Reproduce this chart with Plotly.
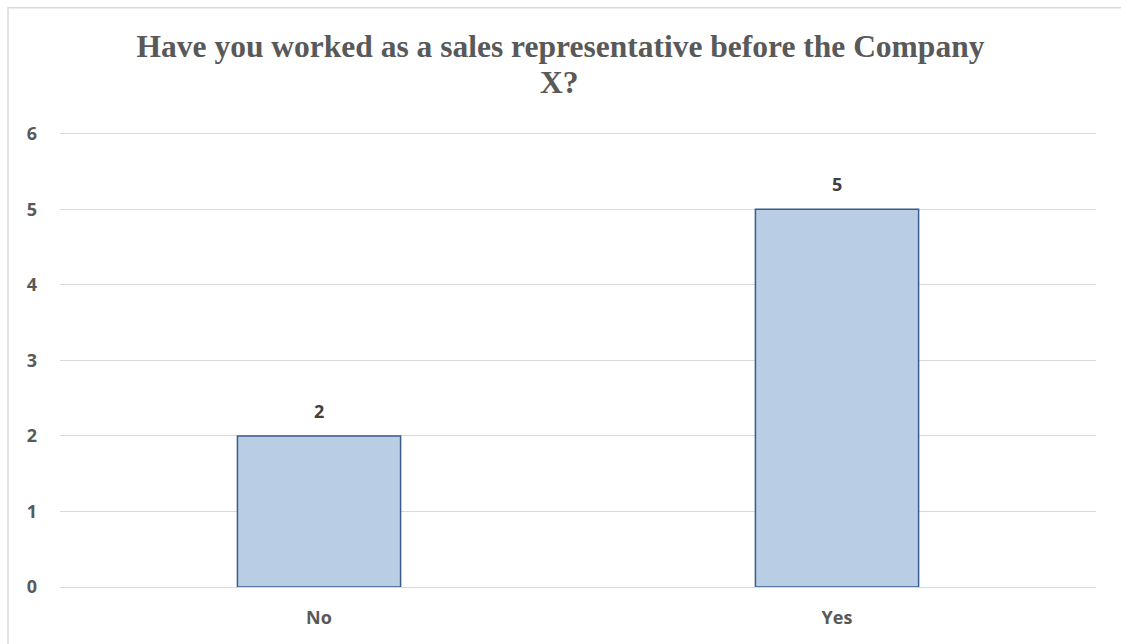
import plotly.graph_objects as go

categories = ["No", "Yes"]
values = [2, 5]
y_ticks = [0, 1, 2, 3, 4, 5, 6]
title_line1 = "Have you worked as a sales representative before the Company"
title_line2 = "X?"

title_font = dict(family="Liberation Serif", size=31.5, color="#595959", weight="bold")

fig = go.Figure()
fig.add_trace(go.Bar(
    x=categories, y=values,
    width=0.315,
    marker=dict(color="#B9CDE5", line=dict(color="#385D8A", width=1.5)),
    hoverinfo="x+y",
))

for c, v in zip(categories, values):
    fig.add_annotation(
        x=c, y=v, text=str(v), showarrow=False, yanchor="bottom", yshift=11,
        font=dict(family="Open Sans", size=18, color="#404040", weight="bold"),
    )

fig.add_annotation(
    xref="paper", yref="paper", x=0.4826, y=1.104, xanchor="center", yanchor="middle",
    text=title_line2, showarrow=False, font=title_font,
)

fig.update_layout(
    width=1121, height=644,
    paper_bgcolor="white", plot_bgcolor="white",
    margin=dict(l=60, r=25, t=130, b=57),
    showlegend=False,
    title=dict(
        text=title_line1, x=0.5, xanchor="center", y=0.928, yanchor="middle",
        font=title_font,
    ),
    xaxis=dict(
        showgrid=False, showline=False, ticks="",
        tickfont=dict(family="Open Sans", size=18, color="#595959", weight="bold"),
        ticklabelstandoff=18,
    ),
    yaxis=dict(
        range=[0, 6.05], tickvals=y_ticks, showgrid=True, gridcolor="#D9D9D9", gridwidth=1.3,
        zeroline=True, zerolinecolor="#D9D9D9", zerolinewidth=1.3,
        showline=False, ticks="",
        tickfont=dict(family="Open Sans", size=18, color="#595959", weight="bold"),
        ticklabelstandoff=22,
    ),
    shapes=[dict(type="rect", xref="paper", yref="paper", x0=-0.0502, x1=1.05, y0=-0.2, y1=1.2675,
                 line=dict(color="#D9D9D9", width=1.5), fillcolor="rgba(0,0,0,0)", layer="below")],
)

fig.write_html("out.html", config={"displayModeBar": False},
               post_script="document.body.style.margin='0';")
